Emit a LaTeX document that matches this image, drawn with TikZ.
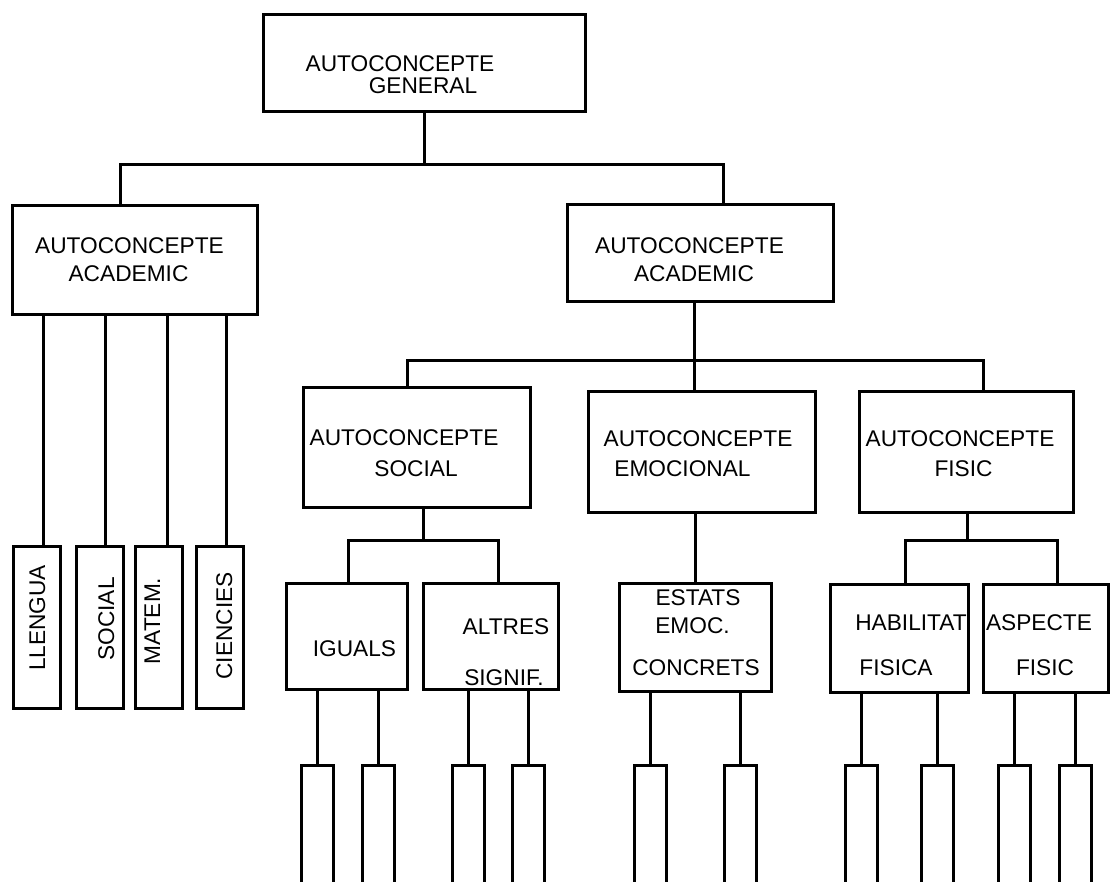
\documentclass[tikz,border=0pt]{standalone}
\usepackage{fontspec}
\setmainfont{Liberation Sans}
\begin{document}
\begin{tikzpicture}[x=1pt, y=-1pt,
  wire/.style={line width=3pt},
  box/.style={draw, line width=3pt, inner sep=0pt},
  lbl/.style={font=\fontsize{22.7}{26}\selectfont, inner sep=0pt,
              text height=16.3pt, text depth=0pt},
  leaf/.style={box, minimum width=47pt, minimum height=162pt, anchor=north},
  stub/.style={box, minimum width=32pt, minimum height=150pt, anchor=north}
]
\fill[white] (0,0) rectangle (1111,882);
\useasboundingbox (0,0) rectangle (1111,882);
\clip (0,0) rectangle (1111,882);
% boxes
\node[box, minimum width=322pt, minimum height=97pt]  (gen)    at (424,63.5)   {};
\node[box, minimum width=245pt, minimum height=109pt] (acadL)  at (134.5,260.5) {};
\node[box, minimum width=266pt, minimum height=97pt]  (acadR)  at (700,253.5)  {};
\node[box, minimum width=227pt, minimum height=119pt] (social) at (416.5,447.5) {};
\node[box, minimum width=227pt, minimum height=120pt] (emoc)   at (701.5,452)  {};
\node[box, minimum width=214pt, minimum height=120pt] (fisic)  at (966,452)    {};
\node[box, minimum width=121pt, minimum height=106pt] (iguals) at (346.5,636)  {};
\node[box, minimum width=135pt, minimum height=106pt] (altres) at (490.5,636)  {};
\node[box, minimum width=152pt, minimum height=108pt] (estats) at (695,637)    {};
\node[box, minimum width=138pt, minimum height=108pt] (habil)  at (899,638)    {};
\node[box, minimum width=125pt, minimum height=108pt] (aspect) at (1045.5,638) {};
% left leaves
\node[leaf] (llengua) at (37,545)    {};
\node[leaf] (socl)    at (99.5,545)  {};
\node[leaf] (matem)   at (158.5,545) {};
\node[leaf] (cienc)   at (220,545)   {};
% bottom stubs
\foreach \n/\x in {i1/317.5, i2/378, a1/468, a2/528.5, e1/650, e2/740.5,
                   h1/861.5, h2/937, p1/1014.5, p2/1075}
  \node[stub] (\n) at (\x,764) {};
% texts
\node[lbl] (genA)    at (400,63)    {AUTOCONCEPTE};
\node[lbl] (genB)    at (423,85)    {GENERAL};
\node[lbl] (acadLA)  at (129.5,245) {AUTOCONCEPTE};
\node[lbl] (acadLB)  at (128.5,273) {ACADEMIC};
\node[lbl] (acadRA)  at (689.5,245) {AUTOCONCEPTE};
\node[lbl] (acadRB)  at (694,273)   {ACADEMIC};
\node[lbl] (socialA) at (404,437)   {AUTOCONCEPTE};
\node[lbl] (socialB) at (416,468)   {SOCIAL};
\node[lbl] (emocA)   at (698,438)   {AUTOCONCEPTE};
\node[lbl] (emocB)   at (682.5,468) {EMOCIONAL};
\node[lbl] (fisicA)  at (960,438)   {AUTOCONCEPTE};
\node[lbl] (fisicB)  at (963.5,468) {FISIC};
\node[lbl] (igualsA) at (354.5,648) {IGUALS};
\node[lbl] (altresA) at (506,626)   {ALTRES};
\node[lbl] (altresB) at (504,677)   {SIGNIF.};
\node[lbl] (estatsA) at (698,597)   {ESTATS};
\node[lbl] (estatsB) at (692.5,625) {EMOC.};
\node[lbl] (estatsC) at (696,667)   {CONCRETS};
\node[lbl] (habilA)  at (911,622)   {HABILITAT};
\node[lbl] (habilB)  at (896,667)   {FISICA};
\node[lbl] (aspectA) at (1039,622)  {ASPECTE};
\node[lbl] (aspectB) at (1045,667)  {FISIC};
\node[lbl, rotate=90] (llenguaT) at (37,618)  {LLENGUA};
\node[lbl, rotate=90] (soclT)    at (106,619) {SOCIAL};
\node[lbl, rotate=90] (matemT)   at (152,621) {MATEM.};
\node[lbl, rotate=90] (ciencT)   at (224,626) {CIENCIES};
% bus points
\coordinate (busA) at (120,165);
\coordinate (busB) at (723,165);
\coordinate (busC) at (407,361);
\coordinate (busD) at (983,361);
\coordinate (busE) at (694,361);
\coordinate (busF) at (423,540);
\coordinate (busG) at (348,540);
\coordinate (busH) at (498,540);
\coordinate (busI) at (967,540);
\coordinate (busJ) at (905,540);
\coordinate (busK) at (1057,540);
% connectors
\draw[wire] (gen.south) -- (gen.south |- busA);
\draw[wire] (acadL.north -| busA) -- (busA) -- (busB) -- (acadR.north -| busB);
\foreach \n/\d in {llengua/6pt, socl/5.5pt, matem/8.5pt, cienc/6pt}
  \draw[wire] ([xshift=\d]\n.north) -- ([xshift=\d]\n.north |- acadL.south);
\draw[wire] (acadR.south -| busE) -- (emoc.north -| busE);
\draw[wire] (social.north -| busC) -- (busC) -- (busD) -- (fisic.north -| busD);
\draw[wire] (social.south -| busF) -- (busF);
\draw[wire] (iguals.north -| busG) -- (busG) -- (busH) -- (altres.north -| busH);
\draw[wire] (emoc.south -| estats.north) -- (estats.north);
\draw[wire] (fisic.south -| busI) -- (busI);
\draw[wire] (habil.north -| busJ) -- (busJ) -- (busK) -- (aspect.north -| busK);
\foreach \n/\p in {i1/iguals, i2/iguals, a1/altres, a2/altres, e1/estats,
                   e2/estats, h1/habil, h2/habil, p1/aspect, p2/aspect}
  \draw[wire] (\n.north) -- (\n.north |- \p.south);
\end{tikzpicture}
\end{document}
